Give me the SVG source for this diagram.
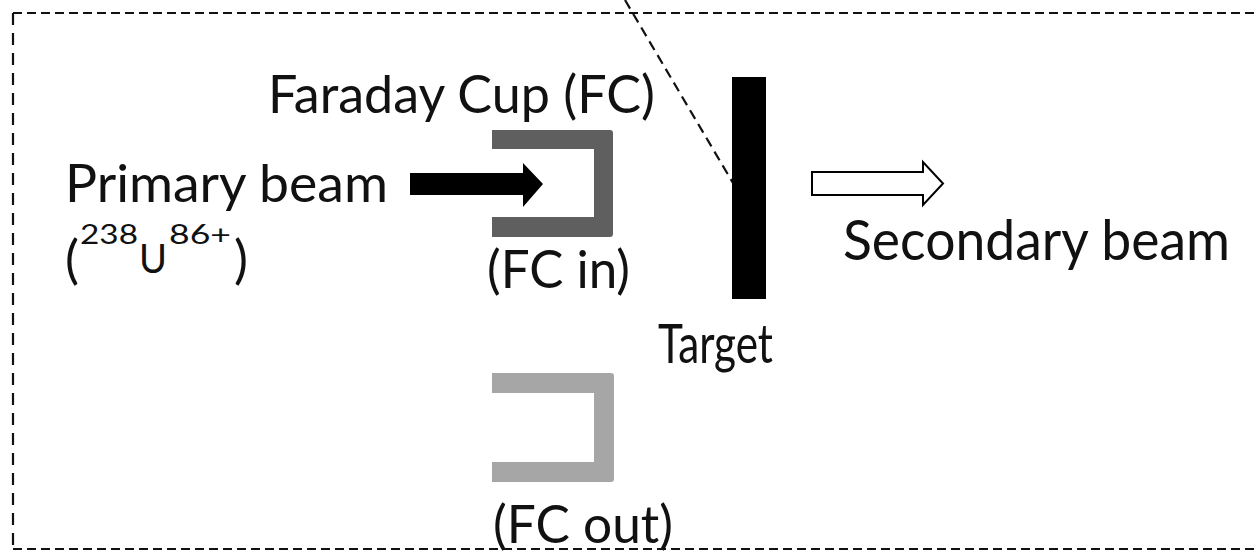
<svg xmlns="http://www.w3.org/2000/svg" width="1259" height="552" viewBox="0 0 1259 552">
  <style>
    .lbl { font-family: Lato, "Noto Sans", "Liberation Sans", sans-serif; fill: #111; }
    .frame-h { stroke: #111; stroke-width: 2.2; stroke-dasharray: 9 5; fill: none; }
    .frame-v { stroke: #111; stroke-width: 2.2; stroke-dasharray: 12 8; fill: none; }
    .diag { stroke: #111; stroke-width: 2.2; stroke-dasharray: 10 6; fill: none; }
  </style>

  <rect x="0" y="0" width="1259" height="552" fill="#ffffff"/>

  <!-- dashed enclosure (open to the right) -->
  <g id="frame">
    <line class="frame-h" x1="13" y1="13" x2="1259" y2="13"/>
    <line class="frame-v" x1="13" y1="13" x2="13" y2="549"/>
    <line class="frame-h" x1="13" y1="549" x2="1259" y2="549"/>
  </g>

  <!-- beam line of sight to the target -->
  <g id="connectors">
    <line class="diag" x1="625" y1="0" x2="733" y2="183"/>
    <!-- primary beam arrow -->
    <polygon points="410,173 523,173 523,163 543,184 523,207 523,195 410,195" fill="#000"/>
    <!-- secondary beam arrow (outlined) -->
    <polygon points="812,172 923,172 923,162 943,183.5 923,205 923,195 812,195" fill="#fff" stroke="#000" stroke-width="2" stroke-linejoin="miter"/>
  </g>

  <g id="faraday-cup-label">
    <text class="lbl" x="268" y="113" font-size="53" textLength="387" lengthAdjust="spacingAndGlyphs">Faraday Cup (FC)</text>
  </g>

  <g id="primary-beam">
    <text class="lbl" x="65" y="202" font-size="52" textLength="323" lengthAdjust="spacingAndGlyphs">Primary beam</text>
    <text class="lbl" x="65" y="278" font-size="52" textLength="14" lengthAdjust="spacingAndGlyphs">(</text>
    <text class="lbl" x="80" y="244" font-size="26" textLength="58" lengthAdjust="spacingAndGlyphs">238</text>
    <text class="lbl" x="139" y="273" font-size="41" textLength="28" lengthAdjust="spacingAndGlyphs">U</text>
    <text class="lbl" x="169" y="244" font-size="26" textLength="62" lengthAdjust="spacingAndGlyphs">86+</text>
    <text class="lbl" x="234" y="278" font-size="52" textLength="14" lengthAdjust="spacingAndGlyphs">)</text>
  </g>

  <g id="fc-in">
    <path d="M492,130 H610 Q613,130 613,133 V234 Q613,237 610,237 H492 V217 H594 V149 H492 Z" fill="#5f5f5f"/>
    <text class="lbl" x="487" y="288" font-size="53" textLength="143" lengthAdjust="spacingAndGlyphs">(FC in)</text>
  </g>

  <g id="fc-out">
    <path d="M492,373 H611 Q614,373 614,376 V479 Q614,482 611,482 H492 V462 H594 V393 H492 Z" fill="#a6a6a6"/>
    <text class="lbl" x="493" y="543" font-size="53" textLength="180" lengthAdjust="spacingAndGlyphs">(FC out)</text>
  </g>

  <g id="target">
    <rect x="732" y="77" width="34" height="222" fill="#000"/>
    <text class="lbl" x="658" y="363" font-size="55" textLength="115" lengthAdjust="spacingAndGlyphs">Target</text>
  </g>

  <g id="secondary-beam">
    <text class="lbl" x="843" y="260" font-size="56" textLength="387" lengthAdjust="spacingAndGlyphs">Secondary beam</text>
  </g>
</svg>
